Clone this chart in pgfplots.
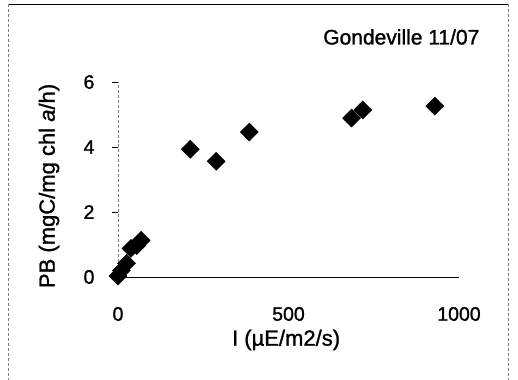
\documentclass[border=0pt]{standalone}
\usepackage{pgfplots}
\pgfplotsset{compat=1.18}
\usepackage{fontspec}
\setmainfont{Liberation Sans}[FakeBold=1.2]
\begin{document}
\begin{tikzpicture}
\useasboundingbox (0,0) rectangle (518bp,380bp);
\draw[black, line width=0.8bp] (8bp,376bp) -- (508bp,376bp);
\draw[gray, densely dashed, line width=0.5bp] (8bp,376bp) -- (8bp,0bp);
\draw[gray, densely dashed, line width=0.5bp] (508bp,376bp) -- (508bp,0bp);
\begin{axis}[
  at={(118bp,103bp)}, anchor=south west,
  scale only axis, width=341bp, height=195bp,
  xmin=0, xmax=1000, ymin=0, ymax=6,
  clip=false,
  axis x line=bottom, axis y line=left,
  axis line style={-},
  x axis line style={black, line width=0.8bp},
  y axis line style={gray, densely dashed, line width=0.5bp},
  xtick={0,500,1000}, ytick={0,2,4,6},
  xtick style={draw=none},
  ytick style={black, line width=0.6bp},
  tick align=outside, major tick length=6bp,
  /pgf/number format/assume math mode=true,
  /pgf/number format/1000 sep={},
  tick label style={font=\fontsize{19.5bp}{22bp}\selectfont},
  xticklabel style={anchor=center, yshift=-31bp},
  yticklabel style={anchor=center, xshift=-23bp},
  xlabel={I (µE/m2/s)},
  ylabel={PB (mgC/mg chl \textit{a}/h)},
  label style={font=\fontsize{22bp}{26bp}\selectfont},
  xlabel style={at={(axis description cs:0.493,-0.323)}, anchor=center},
  ylabel style={at={(axis description cs:-0.2023,0.467)}, anchor=center},
]
\addplot[only marks, mark=square*, mark size=6.4bp, mark options={rotate=45, fill=black, draw=black}] coordinates {
(0,0.03) (10,0.2) (25,0.42) (38,0.88) (55,0.97) (68,1.13)
(212,3.93) (288,3.56) (385,4.46) (685,4.89) (718,5.14) (929,5.26)
};
\node[anchor=east, font=\fontsize{21bp}{25bp}\selectfont] at (axis description cs:1.070,1.231) {Gondeville 11/07};
\end{axis}
\end{tikzpicture}
\end{document}
